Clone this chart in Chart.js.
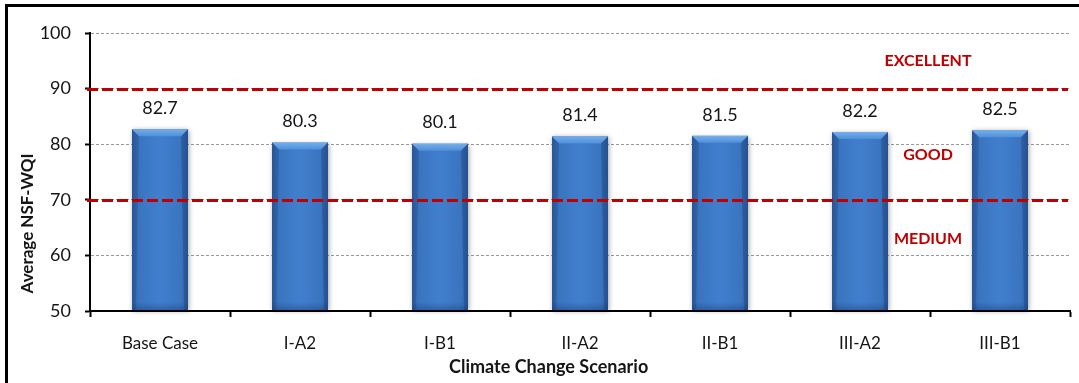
<!DOCTYPE html>
<html>
<head>
<meta charset="utf-8">
<script src="https://cdn.jsdelivr.net/npm/chart.js@4/dist/chart.umd.min.js"></script>
<style>
  html, body { margin: 0; padding: 0; background: #fff; }
  #wrap { position: relative; width: 1079px; height: 383px; }
</style>
</head>
<body>
<div id="wrap"><canvas id="chart" width="1079" height="383"></canvas></div>
<script>
// Average NSF-WQI per climate change scenario
const categories = ['Base Case', 'I-A2', 'I-B1', 'II-A2', 'II-B1', 'III-A2', 'III-B1'];
const wqiValues = [82.7, 80.3, 80.1, 81.4, 81.5, 82.2, 82.5];
const yTickValues = [50, 60, 70, 80, 90, 100];

// Water quality class boundaries and class names (with the level each name sits at)
const classBounds = [90, 70];
const classNames = ['EXCELLENT', 'GOOD', 'MEDIUM'];
const classNameLevels = [95, 78, 63];

const xTitle = 'Climate Change Scenario';
const yTitle = 'Average NSF-WQI';

const FONT = 'Lato, "Open Sans", "DejaVu Sans", sans-serif';
const TEXT = '#151515';
const RED = '#c00000';

// White page with the black frame along the top and left edges
const framePlugin = {
  id: 'frame',
  beforeDraw(chart) {
    const ctx = chart.ctx;
    ctx.save();
    ctx.fillStyle = '#fff';
    ctx.fillRect(0, 0, chart.width, chart.height);
    ctx.strokeStyle = '#000';
    ctx.lineWidth = 3;
    ctx.beginPath();
    ctx.moveTo(chart.width, 5.5);
    ctx.lineTo(6.5, 5.5);
    ctx.lineTo(6.5, chart.height);
    ctx.stroke();
    ctx.restore();
  }
};

// Bevelled bars, class boundary lines, value labels and class names
const decorPlugin = {
  id: 'decor',
  afterDatasetsDraw(chart) {
    const ctx = chart.ctx;
    const area = chart.chartArea;
    const yScale = chart.scales.y;
    const xScale = chart.scales.x;
    const meta = chart.getDatasetMeta(0);

    meta.data.forEach((bar) => {
      const p = bar.getProps(['x', 'y', 'base', 'width'], true);
      const l = p.x - p.width / 2, r = p.x + p.width / 2;
      const t = p.y, b = Math.min(p.base, area.bottom - 1);
      const bev = 7;

      ctx.save();
      // soft shadow + body
      ctx.shadowColor = 'rgba(0,0,0,0.35)';
      ctx.shadowBlur = 5;
      ctx.shadowOffsetX = 1;
      ctx.shadowOffsetY = 1;
      const g = ctx.createLinearGradient(l, 0, r, 0);
      g.addColorStop(0, '#2c5fa3');
      g.addColorStop(0.12, '#3a74bf');
      g.addColorStop(0.5, '#417fce');
      g.addColorStop(0.88, '#3a74bf');
      g.addColorStop(1, '#2b5c9f');
      ctx.fillStyle = g;
      ctx.fillRect(l, t, r - l, b - t);
      ctx.restore();

      ctx.save();
      // darker band toward the base
      const gb = ctx.createLinearGradient(0, b - 8, 0, b);
      gb.addColorStop(0, 'rgba(20,50,100,0)');
      gb.addColorStop(1, 'rgba(20,50,100,0.35)');
      ctx.fillStyle = gb;
      ctx.fillRect(l, b - 8, r - l, 8);

      // top bevel
      const gt = ctx.createLinearGradient(0, t, 0, t + bev);
      gt.addColorStop(0, '#75afea');
      gt.addColorStop(1, '#4f8fdb');
      ctx.fillStyle = gt;
      ctx.beginPath();
      ctx.moveTo(l, t);
      ctx.lineTo(r, t);
      ctx.lineTo(r - bev, t + bev);
      ctx.lineTo(l + bev, t + bev);
      ctx.closePath();
      ctx.fill();

      // side bevels
      ctx.fillStyle = 'rgba(25,60,115,0.35)';
      ctx.beginPath();
      ctx.moveTo(r, t);
      ctx.lineTo(r - bev, t + bev);
      ctx.lineTo(r - bev * 0.55, b);
      ctx.lineTo(r, b);
      ctx.closePath();
      ctx.fill();
      ctx.fillStyle = 'rgba(25,60,115,0.25)';
      ctx.beginPath();
      ctx.moveTo(l, t);
      ctx.lineTo(l + bev, t + bev);
      ctx.lineTo(l + bev * 0.55, b);
      ctx.lineTo(l, b);
      ctx.closePath();
      ctx.fill();
      ctx.restore();
    });

    // class boundary lines
    ctx.save();
    ctx.strokeStyle = RED;
    ctx.lineWidth = 3;
    ctx.setLineDash([11, 4]);
    classBounds.forEach((v) => {
      const y = Math.round(yScale.getPixelForValue(v)) + 0.5;
      ctx.beginPath();
      ctx.moveTo(area.left - 3, y);
      ctx.lineTo(area.right - 2, y);
      ctx.stroke();
    });
    ctx.restore();

    // value labels above each bar
    ctx.save();
    ctx.font = '18px ' + FONT;
    ctx.fillStyle = TEXT;
    ctx.textAlign = 'center';
    ctx.textBaseline = 'middle';
    meta.data.forEach((bar, i) => {
      ctx.fillText(wqiValues[i].toFixed(1), bar.x, bar.y - 21);
    });
    ctx.restore();

    // class names between the last two bars
    ctx.save();
    ctx.font = 'bold 16px ' + FONT;
    ctx.fillStyle = RED;
    ctx.textAlign = 'center';
    ctx.textBaseline = 'middle';
    const n = categories.length;
    const cx = (xScale.getPixelForValue(n - 2) + xScale.getPixelForValue(n - 1)) / 2;
    classNames.forEach((name, i) => {
      ctx.fillText(name, cx - 2, yScale.getPixelForValue(classNameLevels[i]));
    });
    ctx.restore();
  },
  afterDraw(chart) {
    const ctx = chart.ctx;
    const area = chart.chartArea;
    ctx.save();
    ctx.fillStyle = TEXT;
    ctx.textAlign = 'center';
    ctx.textBaseline = 'middle';
    // x axis title
    ctx.font = 'bold 18px ' + FONT;
    ctx.fillText(xTitle, area.left + (area.right - area.left) * 0.468, chart.height - 16);
    // y axis title
    ctx.font = 'bold 17px ' + FONT;
    ctx.translate(28, area.top + (area.bottom - area.top) * 0.685);
    ctx.rotate(-Math.PI / 2);
    ctx.fillText(yTitle, 0, 0);
    ctx.restore();
  }
};

new Chart(document.getElementById('chart'), {
  type: 'bar',
  data: {
    labels: categories,
    datasets: [{
      data: wqiValues,
      backgroundColor: 'rgba(0,0,0,0)',
      borderWidth: 0,
      barPercentage: 0.4,
      categoryPercentage: 1.0
    }]
  },
  plugins: [framePlugin, decorPlugin],
  options: {
    responsive: false,
    animation: false,
    events: [],
    layout: { padding: { top: 33, right: 9, left: 0, bottom: 0 } },
    plugins: {
      legend: { display: false },
      tooltip: { enabled: false },
      title: { display: false }
    },
    scales: {
      x: {
        afterFit(scale) { scale.height = 72; },
        grid: {
          display: true,
          offset: true,
          drawOnChartArea: false,
          drawTicks: true,
          tickLength: 6,
          tickColor: '#000',
          tickWidth: 2
        },
        border: { display: true, color: '#000', width: 2 },
        ticks: {
          color: TEXT,
          font: { family: FONT, size: 17 },
          padding: 16,
          maxRotation: 0,
          autoSkip: false
        }
      },
      y: {
        min: 50,
        max: 100,
        afterFit(scale) { scale.width = 90; },
        afterBuildTicks(scale) { scale.ticks = yTickValues.map((v) => ({ value: v })); },
        grid: {
          color: '#9a9a9a',
          lineWidth: 1,
          drawTicks: true,
          tickLength: 5,
          tickColor: '#000',
          tickWidth: 2,
          tickBorderDash: []
        },
        border: { display: true, color: '#000', width: 2, dash: [3, 2] },
        ticks: {
          color: TEXT,
          font: { family: FONT, size: 18 },
          padding: 14
        }
      }
    }
  }
});
</script>
</body>
</html>
